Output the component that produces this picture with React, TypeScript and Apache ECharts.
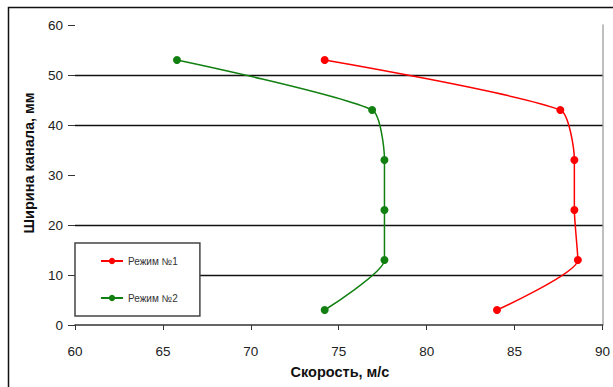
import React, { useEffect, useRef } from "react";
import * as echarts from "echarts";

const widths = [53, 43, 33, 23, 13, 3];
const speedMode1 = [74.2, 87.6, 88.4, 88.4, 88.6, 84.0];
const speedMode2 = [65.8, 76.9, 77.6, 77.6, 77.6, 74.2];
const seriesNames = ["Режим №1", "Режим №2"];
const gridValues = [10, 20, 40, 50];
const xTitle = "Скорость, м/с";
const yTitle = "Ширина канала, мм";

export default function App() {
  const ref = useRef<HTMLDivElement>(null);
  useEffect(() => {
    if (!ref.current) return;
    const chart = echarts.init(ref.current, null, { renderer: "svg" });
    const font = "'Liberation Sans', Arial, sans-serif";
    const mk = (vals: number[]) => vals.map((v, i) => [v, widths[i]]);
    chart.setOption({
      animation: false,
      backgroundColor: "#fff",
      textStyle: { fontFamily: font },
      grid: { left: 75, right: 5, top: 25, bottom: 62 },
      xAxis: {
        type: "value",
        min: 60,
        max: 90,
        interval: 5,
        axisLine: { show: true, lineStyle: { color: "#333", width: 1.5 } },
        axisTick: { show: true, length: 5, lineStyle: { color: "#333" } },
        axisLabel: { color: "#222", fontSize: 13.5, margin: 19, fontFamily: font },
        splitLine: { show: false },
      },
      yAxis: [
        {
          type: "value",
          min: 0,
          max: 60,
          interval: 10,
          axisLine: { show: false },
          axisTick: { show: true, length: 7, lineStyle: { color: "#333" } },
          axisLabel: { color: "#222", fontSize: 13.5, margin: 12, fontFamily: font },
          splitLine: { show: false },
        },
        {
          type: "value",
          min: 0,
          max: 60,
          interval: 10,
          position: "right",
          axisLine: { show: true, lineStyle: { color: "#aaa", width: 1.5 } },
          axisTick: { show: false },
          axisLabel: { show: false },
          splitLine: { show: false },
        },
      ],
      legend: {
        orient: "vertical",
        left: 75,
        top: 243,
        padding: [13, 22, 13, 25],
        itemGap: 27,
        itemWidth: 22,
        itemHeight: 8,
        backgroundColor: "#fff",
        borderColor: "#444",
        borderWidth: 1.5,
        borderRadius: 0,
        textStyle: { fontSize: 10, color: "#333", fontFamily: font },
        data: seriesNames,
      },
      series: [
        {
          name: seriesNames[0],
          type: "line",
          data: mk(speedMode1),
          smooth: 0.2,
          symbol: "circle",
          symbolSize: 8,
          itemStyle: { color: "#ff0000" },
          lineStyle: { color: "#ff0000", width: 1.5 },
          z: 3,
          markLine: {
            silent: true,
            symbol: ["none", "none"],
            label: { show: false },
            lineStyle: { color: "#111", width: 1.4, type: "solid" },
            data: gridValues.map((v) => ({ yAxis: v })),
            z: 1,
          },
        },
        {
          name: seriesNames[1],
          type: "line",
          data: mk(speedMode2),
          smooth: 0.2,
          symbol: "circle",
          symbolSize: 8,
          itemStyle: { color: "#118011" },
          lineStyle: { color: "#118011", width: 1.5 },
          z: 3,
        },
      ],
      graphic: [
        {
          type: "rect",
          shape: { x: 8.5, y: 7.5, width: 800, height: 600 },
          style: { fill: "none", stroke: "#111", lineWidth: 1.5 },
          silent: true,
        },
        {
          type: "text",
          x: 340,
          y: 372,
          style: {
            text: xTitle,
            font: `bold 14.5px ${font}`,
            fill: "#111",
            textAlign: "center",
            textVerticalAlign: "middle",
          },
        },
        {
          type: "text",
          x: 29,
          y: 163,
          rotation: Math.PI / 2,
          style: {
            text: yTitle,
            font: `bold 14.5px ${font}`,
            fill: "#111",
            textAlign: "center",
            textVerticalAlign: "middle",
          },
        },
      ],
    });
    return () => chart.dispose();
  }, []);
  return <div ref={ref} style={{ width: 613, height: 387, position: "absolute", left: 0, top: 0 }} />;
}
